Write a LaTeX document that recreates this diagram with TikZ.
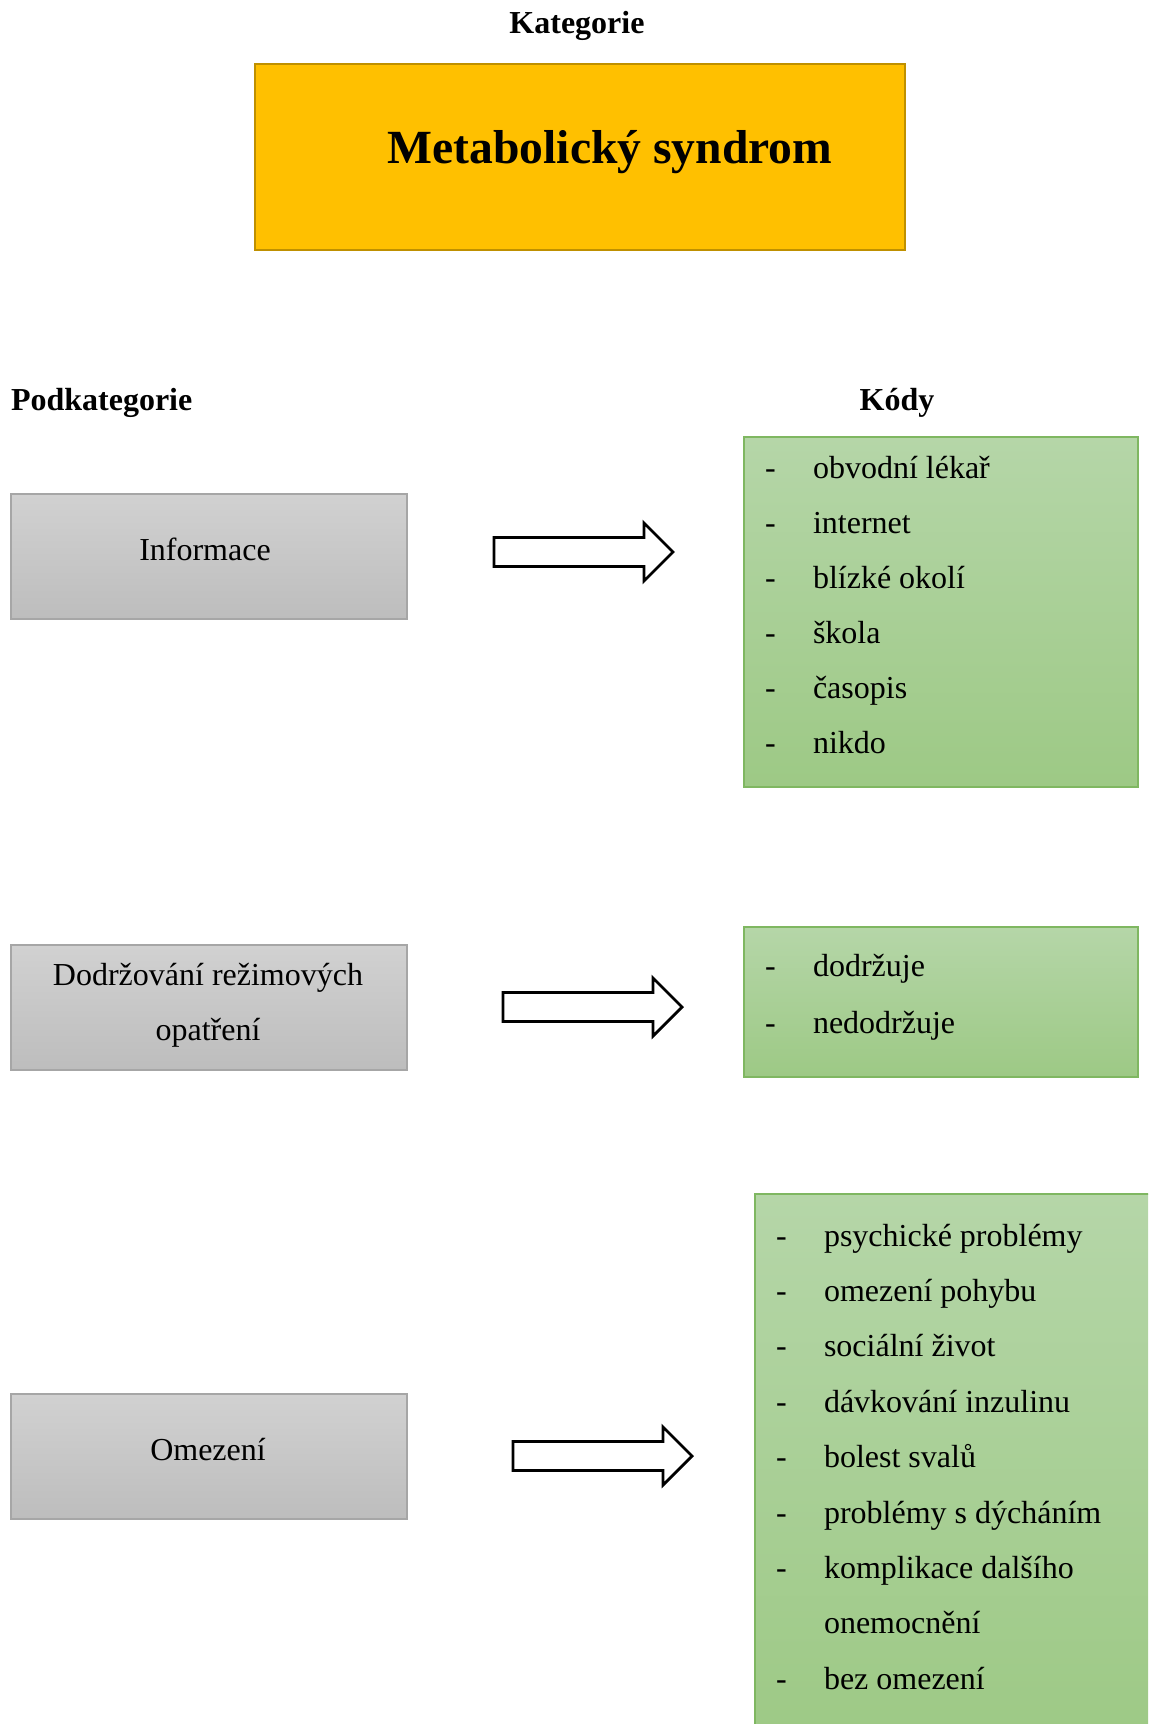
\documentclass[tikz,border=0pt]{standalone}
\usepackage{fontspec}
\setmainfont{Liberation Serif}
\definecolor{titlefill}{HTML}{FFC000}
\definecolor{titleedge}{HTML}{BF9000}
\definecolor{greytop}{HTML}{D1D1D1}
\definecolor{greybot}{HTML}{BDBDBD}
\definecolor{greyedge}{HTML}{A6A6A6}
\definecolor{greentop}{HTML}{B5D6A8}
\definecolor{greenbot}{HTML}{9DC985}
\definecolor{greenedge}{HTML}{7FB761}
\begin{document}
\begin{tikzpicture}[x=0.5pt,y=-0.5pt,
  every node/.style={inner sep=0pt, outer sep=0pt},
  heading/.style={font=\fontsize{16}{19}\selectfont\bfseries, anchor=base},
  label/.style={font=\fontsize{16}{19}\selectfont, anchor=base},
  item/.style={font=\fontsize{16}{19}\selectfont, anchor=base west},
  titlebox/.style={draw=titleedge, line width=1pt, fill=titlefill, anchor=north west},
  subbox/.style={draw=greyedge, line width=0.6pt, top color=greytop, bottom color=greybot,
    anchor=north west, minimum width=198pt, minimum height=62.5pt},
  codebox/.style={draw=greenedge, line width=0.75pt, top color=greentop, bottom color=greenbot,
    anchor=north west},
  blockarrow/.style={draw=black, line width=1.4pt, fill=white, line join=miter},
]
\useasboundingbox (0,0) rectangle (1148,1724);
\clip (0,0) rectangle (1148,1724);

% category
\node[heading] (kat) at (577,33) {Kategorie};
\node[titlebox, minimum width=325pt, minimum height=93pt] (ms) at (255,64) {};
\node[anchor=base, font=\fontsize{23.8}{28}\selectfont\bfseries] (mstext) at (610,163) {Metabolický syndrom};

% column headings
\node[heading, anchor=base west] (podk) at (11,410) {Podkategorie};
\node[heading] (kody) at (897,410) {Kódy};

% subcategories
\node[subbox] (s1) at (11,494) {};
\node[label] (s1t) at (205,560) {Informace};
\node[subbox] (s2) at (11,945) {};
\node[label] (s2a) at (208,985) {Dodržování režimových};
\node[label] (s2b) at (208,1040) {opatření};
\node[subbox] (s3) at (11,1394) {};
\node[label] (s3t) at (208,1460) {Omezení};

% block arrows
\newcommand{\blockarr}[1]{%
  \draw[blockarrow] (#1) ++(0,-14.5) -- ++(150,0) -- ++(0,-14.5) -- ++(29,29)
    -- ++(-29,29) -- ++(0,-14.5) -- ++(-150,0) -- cycle;}
\coordinate (a1) at (494,552);
\coordinate (a2) at (503,1007);
\coordinate (a3) at (513,1456);
\blockarr{a1}
\blockarr{a2}
\blockarr{a3}

% code boxes
\node[codebox, minimum width=197pt, minimum height=175pt] (k1) at (744,437) {};
\foreach \t [count=\i] in {obvodní lékař, internet, blízké okolí, škola, časopis, nikdo}{
  \node[item] (k1d\i) at (765,{478+55*(\i-1)}) {-};
  \node[item] (k1t\i) at (813,{478+55*(\i-1)}) {\t};
}

\node[codebox, minimum width=197pt, minimum height=75pt] (k2) at (744,927) {};
\foreach \t [count=\i] in {dodržuje, nedodržuje}{
  \node[item] (k2d\i) at (765,{976+57*(\i-1)}) {-};
  \node[item] (k2t\i) at (813,{976+57*(\i-1)}) {\t};
}

\node[codebox, minimum width=205pt, minimum height=275pt] (k3) at (755,1194) {};
\foreach \t [count=\i] in {psychické problémy, omezení pohybu, sociální život,
    dávkování inzulinu, bolest svalů, problémy s dýcháním, komplikace dalšího}{
  \node[item] (k3d\i) at (776,{1246+55.4*(\i-1)}) {-};
  \node[item] (k3t\i) at (824,{1246+55.4*(\i-1)}) {\t};
}
\node[item] (k3t8) at (824,1633.8) {onemocnění};
\node[item] (k3d9) at (776,1689.2) {-};
\node[item] (k3t9) at (824,1689.2) {bez omezení};
\end{tikzpicture}
\end{document}
